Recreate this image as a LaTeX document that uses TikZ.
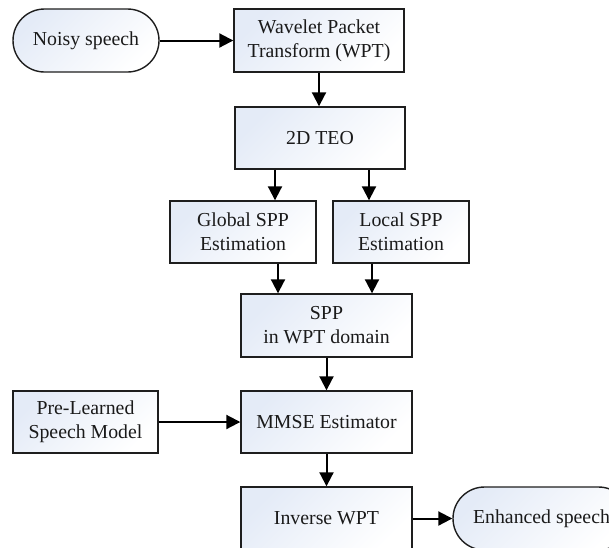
\documentclass[tikz,border=0pt]{standalone}
\usepackage{fontspec}
\setmainfont{Liberation Serif}
\usetikzlibrary{arrows.meta,calc}

\definecolor{boxtint}{HTML}{E4EBF7}
\definecolor{edge}{HTML}{1E1E1E}
\definecolor{ink}{HTML}{1A1A1A}

\tikzset{
  block/.style={draw=edge, line width=1.4pt, rectangle, inner sep=0pt,
    top color=boxtint, bottom color=white, shading angle=45,
    align=center, text=ink, font=\fontsize{19.8}{24}\selectfont},
  stadium/.style={block, rounded corners=31.5pt},
  flow/.style={line width=2pt, draw=black,
    -{Triangle[length=14pt,width=14pt]}},
}

\begin{document}
\begin{tikzpicture}[x=1pt,y=-1pt]
  \useasboundingbox (0,0) rectangle (609,547);
  \clip (0,0) rectangle (609,547);

  % processing chain
  \node[stadium, minimum width=146, minimum height=63] (noisy) at (86,40.5) {Noisy speech};
  \node[block, minimum width=170, minimum height=63] (wpt) at (319,40.5) {Wavelet Packet\\Transform (WPT)};
  \node[block, minimum width=170, minimum height=62] (teo) at (320,138) {2D TEO};
  \node[block, minimum width=146, minimum height=62] (glob) at (243,232) {Global SPP\\Estimation};
  \node[block, minimum width=136, minimum height=62] (loc) at (401,232) {Local SPP\\Estimation};
  \node[block, minimum width=171, minimum height=63] (spp) at (326.5,325.5) {SPP\\in WPT domain};
  \node[block, minimum width=145, minimum height=62] (pre) at (85.5,422) {Pre-Learned\\Speech Model};
  \node[block, minimum width=171, minimum height=62] (mmse) at (326.5,422) {MMSE Estimator};
  \node[block, minimum width=171, minimum height=63] (inv) at (326.5,518.5) {Inverse WPT};
  \node[stadium, minimum width=177, minimum height=63] (enh) at (541.5,518.5) {Enhanced speech};

  % connectors
  \draw[flow] (noisy.east) -- (wpt.west);
  \draw[flow] (wpt.south) -- (teo.north -| wpt.south);
  \draw[flow] ([xshift=-45pt]teo.south) -- ([xshift=-45pt]teo.south |- glob.north);
  \draw[flow] ([xshift=49pt]teo.south) -- ([xshift=49pt]teo.south |- loc.north);
  \draw[flow] ([xshift=35pt]glob.south) -- ([xshift=35pt]glob.south |- spp.north);
  \draw[flow] ([xshift=-29pt]loc.south) -- ([xshift=-29pt]loc.south |- spp.north);
  \draw[flow] (spp.south) -- (mmse.north);
  \draw[flow] (pre.east) -- (mmse.west);
  \draw[flow] (mmse.south) -- (inv.north);
  \draw[flow] (inv.east) -- (enh.west);
\end{tikzpicture}
\end{document}
